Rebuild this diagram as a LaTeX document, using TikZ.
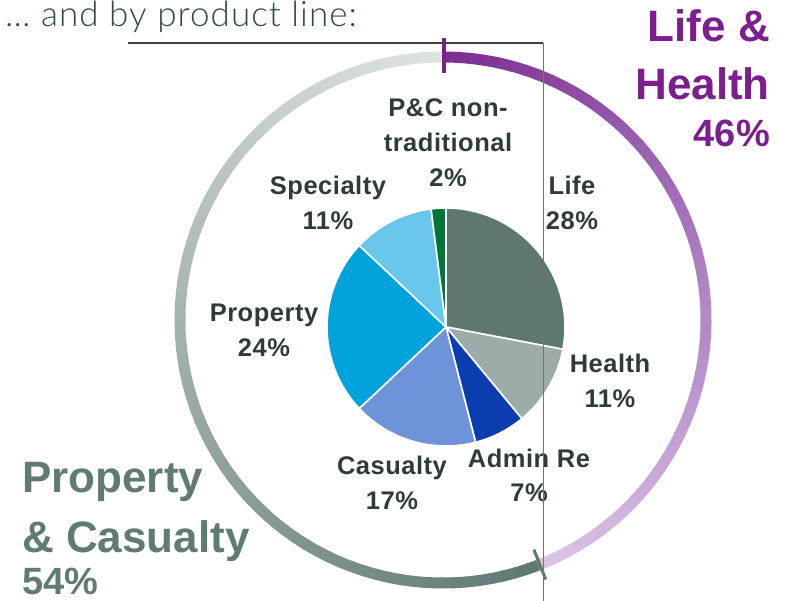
\documentclass[tikz,border=0pt]{standalone}
\usepackage{fontspec}
\setmainfont{Liberation Sans}
\newfontfamily\pielabelfont{Liberation Sans}[LetterSpace=2]
\newfontfamily\titlefont{Lato Light}[LetterSpace=3]

\definecolor{txtdark}{HTML}{2E3C38}
\definecolor{titlecol}{HTML}{2F4A44}
\definecolor{lhpurple}{HTML}{7B1E8E}
\definecolor{pctxt}{HTML}{607B74}
\definecolor{lifecol}{HTML}{5F7771}
\definecolor{hlthcol}{HTML}{9EACA9}
\definecolor{admncol}{HTML}{0B3DB0}
\definecolor{casucol}{HTML}{6F93D8}
\definecolor{propcol}{HTML}{00A2DC}
\definecolor{speccol}{HTML}{69C7EC}
\definecolor{pcntcol}{HTML}{00763A}
\definecolor{lhdark}{HTML}{7C2D91}
\definecolor{lhmid}{HTML}{B18AC7}
\definecolor{lhlight}{HTML}{DCC4E3}
\definecolor{pclight}{HTML}{DDE3E2}
\definecolor{pcdark}{HTML}{5F7872}

\begin{document}
\begin{tikzpicture}[x=1pt,y=1pt,
  ringseg/.style={line width=11pt,line cap=butt},
  slice/.style={draw=white,line width=1.6pt,line join=round},
  pielabel/.style={anchor=base,align=center,inner sep=0pt,text=txtdark,
    font=\pielabelfont\bfseries\fontsize{25.5}{35}\selectfont},
  bigpurple/.style={anchor=base east,inner sep=0pt,text=lhpurple,font=\bfseries},
  biggray/.style={anchor=base west,inner sep=0pt,text=pctxt,font=\bfseries},
  lhtick/.style={draw=lhpurple,line width=3.5pt},
  pctick/.style={draw=pcdark,line width=3pt}]

\useasboundingbox (0,0) rectangle (785,-601);

\coordinate (ringc) at (443,-320);
\coordinate (piec) at (446,-327);

% outer ring, P&C side
\foreach \k in {0,...,71}{
  \pgfmathsetmacro\sa{90+2.8*\k}
  \pgfmathtruncatemacro\pc{100*\k/71}
  \draw[ringseg,draw=pcdark!\pc!pclight] ([shift={(\sa:263)}]ringc)
    arc[start angle=\sa,delta angle=3.2,radius=263];
}

% outer ring, L&H side
\foreach \k in {0,...,29}{
  \pgfmathsetmacro\sa{90-3*\k}
  \pgfmathtruncatemacro\pc{100-100*\k/29}
  \draw[ringseg,draw=lhdark!\pc!lhmid] ([shift={(\sa:263)}]ringc)
    arc[start angle=\sa,delta angle=-3.4,radius=263];
}
\foreach \k in {0,...,23}{
  \pgfmathsetmacro\sa{-2.85*\k}
  \pgfmathtruncatemacro\pc{100-100*\k/23}
  \draw[ringseg,draw=lhmid!\pc!lhlight] ([shift={(\sa:263)}]ringc)
    arc[start angle=\sa,delta angle=-3.2,radius=263];
}

\draw[lhtick] (444,-38) -- (444,-73);
\draw[pctick] ([shift={(-68.4:247)}]ringc) -- ([shift={(-68.4:279)}]ringc);

% pie
\foreach \sa/\ea/\col in {90/-10.8/lifecol,-10.8/-50.4/hlthcol,-50.4/-75.6/admncol,
    -75.6/-136.8/casucol,-136.8/-223.2/propcol,-223.2/-262.8/speccol,-262.8/-270/pcntcol}
  \filldraw[slice,fill=\col] (piec) -- ([shift={(\sa:119)}]piec)
    arc[start angle=\sa,end angle=\ea,radius=119] -- cycle;

% labels (anchored on the last line)
\node[pielabel] (pcnt) at (448,-187) {P\&C non-\\traditional\\2\%};
\node[pielabel] (spec) at (328,-230) {Specialty\\11\%};
\node[pielabel] (life) at (572,-230) {Life\\28\%};
\node[pielabel] (prop) at (264,-357) {Property\\24\%};
\node[pielabel] (hlth) at (610,-408) {Health\\11\%};
\node[pielabel] (casu) at (392,-510) {Casualty\\17\%};
\node[pielabel] (admn) at (529,-502) {Admin Re\\7\%};

\node[anchor=base west,inner sep=0pt,text=titlecol,
  font=\titlefont\fontsize{35}{40}\selectfont] (title) at (5,-27) {… and by product line:};

\node[bigpurple,font=\bfseries\fontsize{44}{50}\selectfont] (lh1) at (770,-42) {Life \&};
\node[bigpurple,font=\bfseries\fontsize{44}{50}\selectfont] (lh2) at (770,-100) {Health};
\node[bigpurple,font=\bfseries\fontsize{38}{44}\selectfont] (lh3) at (770,-147) {46\%};

\node[biggray,font=\bfseries\fontsize{44}{50}\selectfont] (pc1) at (22,-493) {Property};
\node[biggray,font=\bfseries\fontsize{44}{50}\selectfont] (pc2) at (22,-552) {\& Casualty};
\node[biggray,font=\bfseries\fontsize{38}{44}\selectfont] (pc3) at (22,-594) {54\%};

% frame rules
\draw[draw=black!75,line width=1.3pt] (128,-43) -- (543,-43);
\draw[draw=black!55,line width=0.9pt] (543,-43) -- (543,-601);

\end{tikzpicture}
\end{document}
